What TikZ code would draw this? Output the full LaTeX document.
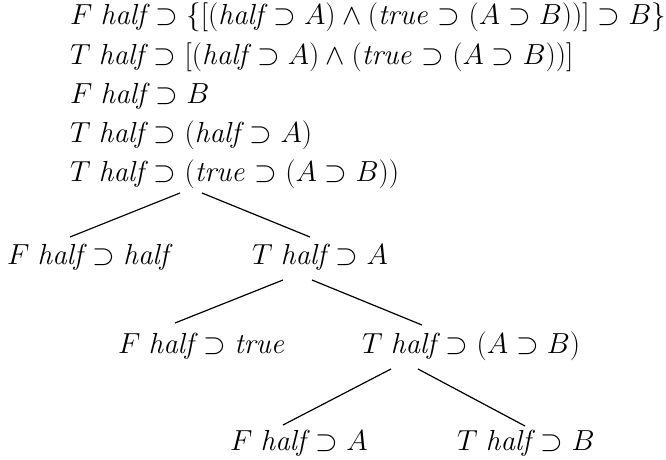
\RequirePackage{fix-cm}
\documentclass[tikz,border=0pt]{standalone}
\newcommand{\hf}{\mathit{half}}
\newcommand{\hfs}{\mathit{half}\mkern-2.5mu\supset}
\newcommand{\tru}{\mathit{true}}
\begin{document}
\begin{tikzpicture}[x=1pt,y=-1pt,
  lbl/.style={inner sep=0pt, anchor=base west, font=\fontsize{29pt}{34pt}\selectfont},
  edge/.style={line width=1.2pt}]
\useasboundingbox (0,0) rectangle (666,460);
\node[lbl] (l1) at (70,25) {$F\;\hfs \{[(\hfs A) \wedge (\tru \supset (A \supset B))] \supset B\}$};
\node[lbl] (l2) at (70,64.2) {$T\;\hfs [(\hfs A) \wedge (\tru \supset (A \supset B))]$};
\node[lbl] (l3) at (70,103.4) {$F\;\hfs B$};
\node[lbl] (l4) at (70,142.6) {$T\;\hfs (\hfs A)$};
\node[lbl] (root) at (70,181.8) {$T\;\hfs (\tru \supset (A \supset B))$};
\node[lbl] (L1) at (7,264) {$F\;\hfs \hf$};
\node[lbl] (R1) at (252,264) {$T\;\hfs A$};
\node[lbl] (L2) at (118,353) {$F\;\hfs \tru$};
\node[lbl] (R2) at (362,353) {$T\;\hfs (A \supset B)$};
\node[lbl] (L3) at (230,450) {$F\;\hfs A$};
\node[lbl] (R3) at (457,450) {$T\;\hfs B$};
\draw[edge] ([shift={(110,11.2)}]root.base west) -- ([shift={(63,-27)}]L1.base west);
\draw[edge] ([shift={(132,11.2)}]root.base west) -- ([shift={(58,-27)}]R1.base west);
\draw[edge] ([shift={(31,16)}]R1.base west) -- ([shift={(57,-30)}]L2.base west);
\draw[edge] ([shift={(60,16)}]R1.base west) -- ([shift={(60,-28)}]R2.base west);
\draw[edge] ([shift={(29,16)}]R2.base west) -- ([shift={(53,-25)}]L3.base west);
\draw[edge] ([shift={(56,16)}]R2.base west) -- ([shift={(68,-24)}]R3.base west);
\end{tikzpicture}
\end{document}
